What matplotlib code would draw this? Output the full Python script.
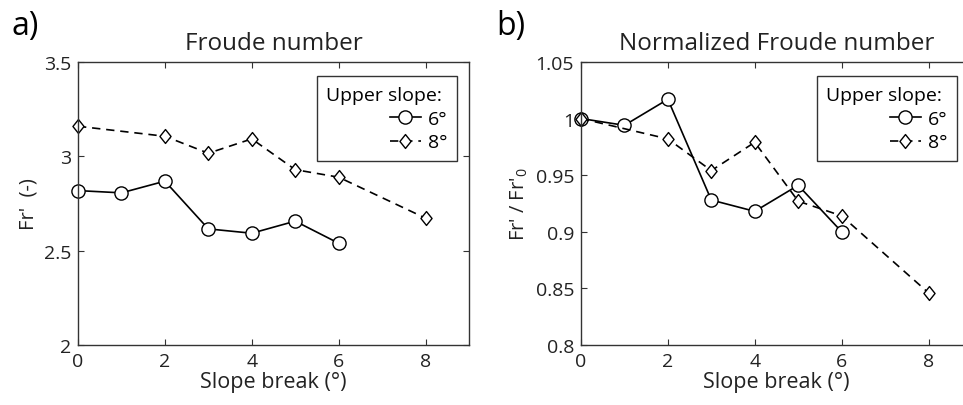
import numpy as np
from matplotlib import pyplot as plt
from matplotlib.path import Path

plt.rcParams['font.family'] = ['Open Sans', 'DejaVu Sans']
plt.rcParams['mathtext.default'] = 'regular'

# Slope break (deg)
x_6 = [0, 1, 2, 3, 4, 5, 6]
x_8 = [0, 2, 3, 4, 5, 6, 8]

# Froude number, upper slope 6 and 8 deg
fr_6 = [2.818, 2.806, 2.868, 2.615, 2.592, 2.656, 2.539]
fr_8 = [3.159, 3.106, 3.016, 3.092, 2.929, 2.889, 2.672]

# Normalized Froude number
nfr_6 = [1.000, 0.994, 1.017, 0.928, 0.918, 0.941, 0.900]
nfr_8 = [1.000, 0.982, 0.954, 0.979, 0.927, 0.914, 0.846]

labels = ["6°", "8°"]

# diamond a bit taller than wide, like matlab's
diamond = Path([(0, 1), (0.8, 0), (0, -1), (-0.8, 0), (0, 1)],
               [Path.MOVETO, Path.LINETO, Path.LINETO, Path.LINETO, Path.CLOSEPOLY])

fig = plt.figure(figsize=(9.63, 4.06), dpi=100)
ax1 = fig.add_axes([0.081, 0.148, 0.406, 0.697])
ax2 = fig.add_axes([0.6033, 0.148, 0.406, 0.697])


def draw(ax, y6, y8, ylim, yticks, yticklabels, ylabel, title, leg_right):
    ax.plot(x_6, y6, '-', color='k', lw=1.2, marker='o', ms=9.5,
            mfc='white', mec='k', mew=1.0, label=labels[0], clip_on=False)
    ax.plot(x_8, y8, '--', color='k', lw=1.2, marker=diamond, ms=10,
            mfc='white', mec='k', mew=1.0, label=labels[1], dashes=(5, 3.5),
            clip_on=False)
    ax.set_xlim(0, 9)
    ax.set_ylim(*ylim)
    ax.set_xticks([0, 2, 4, 6, 8])
    ax.set_yticks(yticks)
    ax.set_yticklabels(yticklabels)
    ax.tick_params(direction='in', top=True, right=True, labelsize=14,
                   length=4, width=0.8, color='#333333', labelcolor='#222222',
                   pad=5)
    for s in ax.spines.values():
        s.set_linewidth(1.0)
        s.set_color('#333333')
    ax.set_xlabel("Slope break (°)", fontsize=15.5, color='#222222', labelpad=1)
    ax.set_ylabel(ylabel, fontsize=14.5, color='#222222', labelpad=4)
    ax.set_title(title, fontsize=17.5, color='#222222', pad=9)
    leg = ax.legend(title="Upper slope: ", alignment='right', loc='upper right',
                    bbox_to_anchor=(leg_right / 963, 1 - 77 / 406),
                    bbox_transform=fig.transFigure,
                    fontsize=14, title_fontsize=14,
                    fancybox=False, edgecolor='#333333', framealpha=1,
                    handlelength=1.6, handletextpad=0.35, borderpad=0.5,
                    labelspacing=0.3, borderaxespad=0)
    leg.get_frame().set_linewidth(1.0)


draw(ax1, fr_6, fr_8, (2, 3.5), [2, 2.5, 3, 3.5], ["2", "2.5", "3", "3.5"],
     "Fr'  (-)", "Froude number", 457)
draw(ax2, nfr_6, nfr_8, (0.8, 1.05), [0.8, 0.85, 0.9, 0.95, 1, 1.05],
     ["0.8", "0.85", "0.9", "0.95", "1", "1.05"],
     "Fr' / Fr'$_0$", "Normalized Froude number", 957)

fig.text(0.012, 0.975, "a)", fontsize=23, va='top', ha='left')
fig.text(0.515, 0.975, "b)", fontsize=23, va='top', ha='left')

fig.savefig("out.png", dpi=100)
